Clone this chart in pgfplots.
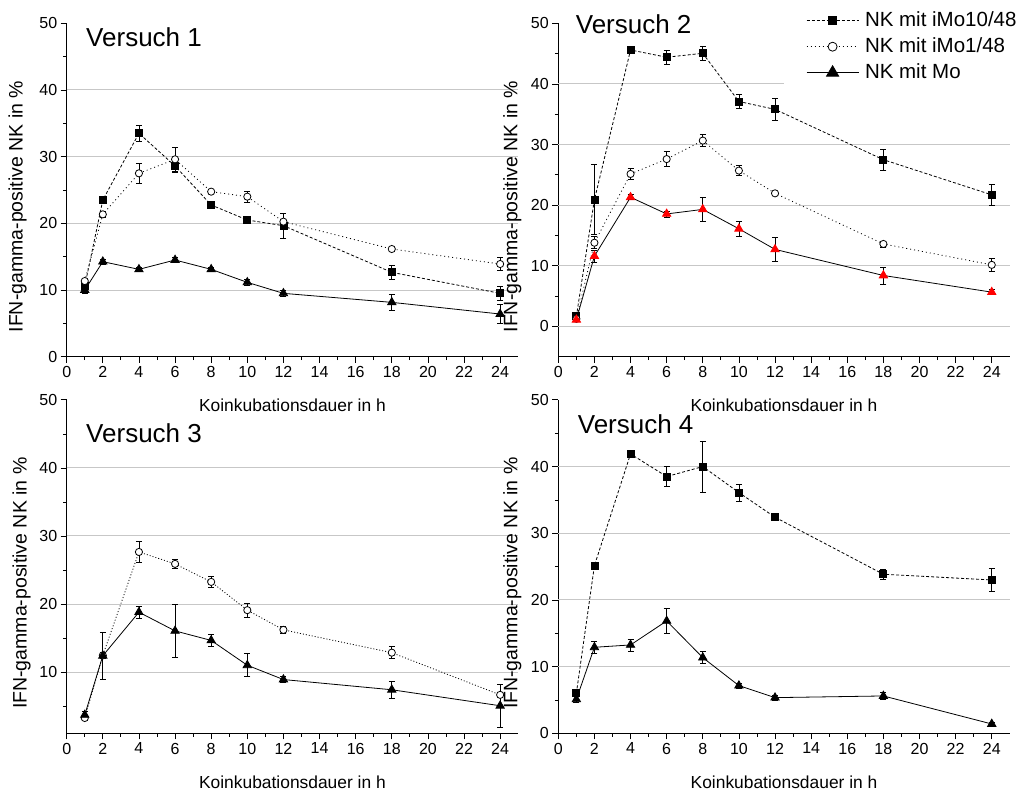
\documentclass[border=0pt]{standalone}
\usepackage{fontspec}
\setmainfont{Liberation Sans}
\usepackage{pgfplots}
\usepackage{pgfplotstable}
\pgfplotsset{compat=1.18}

\pgfplotstableread{
x sq sqe ci cie tr tre
1 10.6 0.5 11.35 0.3 10.0 0.5
2 23.5 0.3 21.35 0.4 14.25 0.4
4 33.5 1.25 27.5 1.5 13.1 0.3
6 28.6 1.0 29.6 1.85 14.5 0.4
8 22.75 0.3 24.75 0.3 13.1 0.3
10 20.5 0.3 24.0 0.8 11.15 0.4
12 19.65 1.9 20.25 0.4 9.5 0.5
18 12.65 1.1 16.15 0.3 8.15 1.2
24 9.5 1.0 13.9 1.0 6.4 1.45
}\dataA
\pgfplotstableread{
x sq sqe ci cie tr tre
1 1.65 0.4 1.25 0.3 1.1 0.3
2 20.9 5.8 13.8 1.0 11.6 1.0
4 45.6 0.3 25.15 0.9 21.3 0.4
6 44.4 1.2 27.6 1.2 18.55 0.5
8 45.05 1.2 30.65 1.0 19.3 1.9
10 37.1 1.2 25.7 0.8 16.1 1.3
12 35.8 1.8 21.95 0.3 12.7 1.9
18 27.5 1.7 13.6 0.5 8.4 1.4
24 21.7 1.8 10.15 1.0 5.65 0.4
}\dataB
\pgfplotstableread{
x ci cie tr tre
1 3.25 0.4 3.7 0.5
2 12.45 0.4 12.4 3.5
4 27.65 1.55 18.8 0.9
6 25.9 0.7 16.05 3.9
8 23.25 0.8 14.65 0.9
10 19.1 1.05 11.0 1.7
12 16.2 0.5 8.9 0.4
18 12.85 0.85 7.4 1.2
24 6.65 1.6 5.05 3.2
}\dataC
\pgfplotstableread{
x sq sqe tr tre
1 6.0 0.4 5.1 0.5
2 25.15 0.3 12.9 0.85
4 41.9 0.3 13.25 0.9
6 38.5 1.5 16.85 1.85
8 40.0 3.85 11.35 0.9
10 36.1 1.3 7.15 0.4
12 32.4 0.3 5.35 0.4
18 23.85 0.8 5.6 0.5
24 23.0 1.75 1.4 0.3
}\dataD

\pgfplotsset{
  base/.style={
    scale only axis, width=451.5pt, height=333.4pt, anchor=south west,
    axis lines*=left, axis line style={black, line width=0.8pt, -},
    xmin=0, xmax=25, xtick={0,2,...,24}, minor x tick num=1,
    tick align=outside, major tick length=6pt, minor tick length=3.5pt,
    every tick/.style={black, line width=0.8pt},
    tick label style={font=\fontsize{16}{16}\selectfont},
    /pgf/number format/assume math mode=true,
    xlabel={Koinkubationsdauer in h},
    ylabel={IFN-gamma-positive NK in \%},
    x label style={font=\fontsize{17.4}{17.4}\selectfont, at={([yshift=-48.5pt]axis description cs:0.5,0)}, anchor=center},
    extra y tick labels={},
    extra y tick style={grid=major, major tick length=0pt},
    major grid style={black!22, line width=1pt},
    clip=false,
  },
  sqs/.style={black, line width=0.8pt, dash pattern=on 3pt off 2pt, mark=square*, mark size=3.5pt, mark options={solid, fill=black}},
  cis/.style={black, line width=0.8pt, dash pattern=on 1pt off 3pt, mark=*, mark size=3.6pt, mark options={solid, fill=white, draw=black}},
  trs/.style={black, line width=0.8pt, solid, mark=triangle*, mark size=4.8pt, mark options={solid, fill=black}},
  eb/.style={error bars/.cd, y dir=both, y explicit, error bar style={black, line width=0.8pt, solid}, error mark options={rotate=90, black, line width=0.8pt, solid, mark size=3pt}, /pgfplots/.cd},
  ylab/.style={y label style={font=\fontsize{19.5}{19.5}\selectfont, at={([xshift=-#1pt]axis description cs:0,0.45)}, anchor=center}},
}
\tikzset{ttl/.style={anchor=base west, font=\fontsize{26}{26}\selectfont}}

\begin{document}
\begin{tikzpicture}
\useasboundingbox (0pt,0pt) rectangle (1022pt,792pt);

% Panel 1
\begin{axis}[base, at={(66.7pt,435.3pt)},
  ymin=0, ymax=50, ytick={0,10,...,50}, minor y tick num=1,
  extra y ticks={10,20,30,40}, ylab=49]
\addplot[sqs, eb] table[x=x, y=sq, y error=sqe] {\dataA};
\addplot[cis, eb] table[x=x, y=ci, y error=cie] {\dataA};
\addplot[trs, eb] table[x=x, y=tr, y error=tre] {\dataA};
\node[ttl] at ([xshift=16pt,yshift=-23pt]rel axis cs:0,1) {Versuch 1};
\end{axis}

% Panel 2
\begin{axis}[base, at={(558.3pt,435.3pt)},
  ymin=-5, ymax=50, ytick={0,10,...,50}, minor y tick num=1,
  extra y ticks={0,10,20,30,40}, ylab=46,
  legend style={at={([xshift=-225.8pt,yshift=18.3pt]rel axis cs:1,1)}, anchor=north west,
    fill=white, draw=none, font=\fontsize{20.5}{20.5}\selectfont, row sep=7pt,
    inner xsep=22pt, inner ysep=6pt,
    nodes={inner sep=0pt, text height=15pt, text depth=4pt},
    /tikz/every odd column/.append style={column sep=6pt}},
  legend cell align=left,
  legend image code/.code={\draw[mark repeat=2, mark phase=2] plot coordinates {(0pt,0pt) (26pt,0pt) (52pt,0pt)};}]
\addplot[sqs, eb, forget plot] table[x=x, y=sq, y error=sqe] {\dataB};
\addplot[cis, eb, forget plot] table[x=x, y=ci, y error=cie] {\dataB};
\addplot[trs, eb, forget plot, mark options={solid, fill=red, draw=red}] table[x=x, y=tr, y error=tre] {\dataB};
\addlegendimage{sqs, mark size=4pt}
\addlegendentry{NK mit iMo10/48}
\addlegendimage{cis, mark size=4.5pt}
\addlegendentry{NK mit iMo1/48}
\addlegendimage{trs, mark size=7pt}
\addlegendentry{NK mit Mo}
\node[ttl] at ([xshift=14pt,yshift=-10pt]rel axis cs:0,1) {Versuch 2};
\end{axis}

% Panel 3
\begin{axis}[base, at={(66.7pt,58.7pt)},
  ymin=1, ymax=50, ytick={10,20,...,50}, minor ytick={5,15,...,45},
  extra y ticks={10,20,30,40}, ylab=45]
\addplot[cis, eb, dash pattern=on 1pt off 2pt] table[x=x, y=ci, y error=cie] {\dataC};
\addplot[trs, eb] table[x=x, y=tr, y error=tre] {\dataC};
\node[ttl] at ([xshift=16pt,yshift=-43pt]rel axis cs:0,1) {Versuch 3};
\end{axis}

% Panel 4
\begin{axis}[base, at={(558.3pt,58.7pt)},
  ymin=0, ymax=50, ytick={0,10,...,50}, minor y tick num=1,
  extra y ticks={10,20,30,40}, ylab=46]
\addplot[sqs, eb] table[x=x, y=sq, y error=sqe] {\dataD};
\addplot[trs, eb] table[x=x, y=tr, y error=tre] {\dataD};
\node[ttl] at ([xshift=16pt,yshift=-34pt]rel axis cs:0,1) {Versuch 4};
\end{axis}
\end{tikzpicture}
\end{document}
